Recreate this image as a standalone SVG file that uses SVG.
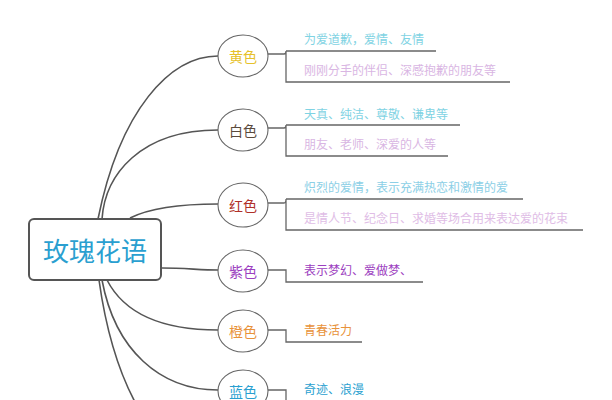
<svg xmlns="http://www.w3.org/2000/svg" width="612" height="400" viewBox="0 0 612 400">
<style>
.c{fill:none;stroke:#555;stroke-width:1.6}
.b{fill:none;stroke:#666;stroke-width:1.3}
.n{fill:#fff;stroke:#666;stroke-width:1.1}
text{font-family:"Noto Sans CJK SC","Noto Sans",sans-serif}
.l{font-size:14px;text-anchor:middle}
.t{font-size:12px}
</style>
<rect width="612" height="400" fill="#fff"/>
<g id="connectors">
<path class="c" d="M98,219 C120,110 170,56 218,56"/>
<path class="c" d="M102,219 C105,175 140,130 218,130"/>
<path class="c" d="M130,218 C150,208 180,204 218,204"/>
<path class="c" d="M162,268 C185,268 200,270 218,270"/>
<path class="c" d="M107,280 C125,315 165,330 218,330"/>
<path class="c" d="M102,280 C115,350 160,390 218,390"/>
<path class="c" d="M99,280 C106,330 118,370 135,402"/>
<path class="b" d="M268,54 H284 Q286,54 286,51 V82 H510 M286,51 H436"/>
<path class="b" d="M268,128 H284 Q286,128 286,125 V156 H448 M286,125 H460"/>
<path class="b" d="M268,203 H284 Q286,203 286,199 V230 H583 M286,199 H523"/>
<path class="b" d="M268,270 H286 V282 H423"/>
<path class="b" d="M268,330 H286 V342 H362"/>
<path class="b" d="M268,390 H286 V402 H340"/>
</g>
<g id="root">
<rect x="29" y="219" width="132" height="61" rx="5" fill="#fff" stroke="#555" stroke-width="2"/>
<text x="95" y="261" font-size="26" text-anchor="middle" fill="#2a9fd0">玫瑰花语</text>
</g>
<g id="yellow">
<ellipse class="n" cx="243" cy="56" rx="25" ry="21"/>
<text class="l" x="243" y="62" fill="#e6c12a">黄色</text>
<text class="t" x="304" y="44" fill="#7fd3e3">为爱道歉，爱情、友情</text>
<text class="t" x="304" y="75" fill="#d9b6e3">刚刚分手的伴侣、深感抱歉的朋友等</text>
</g>
<g id="white">
<ellipse class="n" cx="243" cy="130" rx="25" ry="21"/>
<text class="l" x="243" y="136" fill="#5a4a3c">白色</text>
<text class="t" x="304" y="119" fill="#7fd3e3">天真、纯洁、尊敬、谦卑等</text>
<text class="t" x="304" y="149" fill="#d9b6e3">朋友、老师、深爱的人等</text>
</g>
<g id="red">
<ellipse class="n" cx="243" cy="205" rx="25" ry="22"/>
<text class="l" x="243" y="211" fill="#b03028">红色</text>
<text class="t" x="304" y="192" fill="#8ccfe6">炽烈的爱情，表示充满热恋和激情的爱</text>
<text class="t" x="304" y="223" fill="#e0bde6">是情人节、纪念日、求婚等场合用来表达爱的花束</text>
</g>
<g id="purple">
<ellipse class="n" cx="243" cy="271" rx="25" ry="21"/>
<text class="l" x="243" y="277" fill="#9c40c0">紫色</text>
<text class="t" x="304" y="275" fill="#9c40c0">表示梦幻、爱做梦、</text>
</g>
<g id="orange">
<ellipse class="n" cx="243" cy="331" rx="25" ry="21"/>
<text class="l" x="243" y="337" fill="#e8923a">橙色</text>
<text class="t" x="304" y="335" fill="#e8923a">青春活力</text>
</g>
<g id="blue">
<ellipse class="n" cx="243" cy="391" rx="25" ry="21"/>
<text class="l" x="243" y="397" fill="#2a9fd0">蓝色</text>
<text class="t" x="304" y="394" fill="#2a9fd0">奇迹、浪漫</text>
</g>
</svg>
